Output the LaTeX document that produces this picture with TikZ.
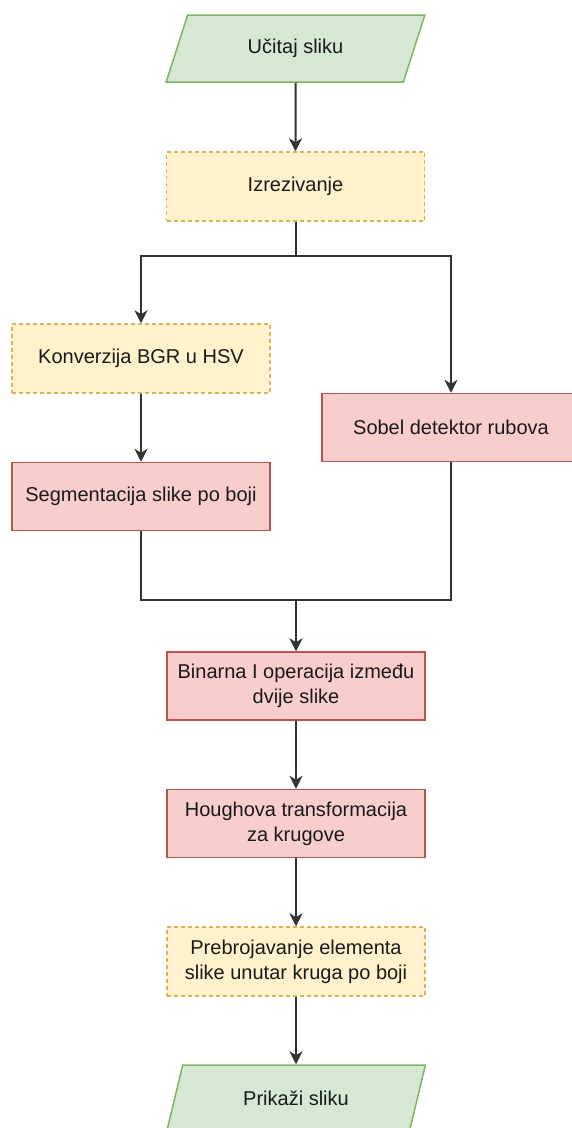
\documentclass[tikz,border=0pt]{standalone}
\usepackage{fontspec}
\setmainfont{Liberation Sans}
\usetikzlibrary{arrows.meta}
\usetikzlibrary{shapes.geometric}
\definecolor{iofill}{HTML}{D5E8D4}
\definecolor{ioline}{HTML}{82B366}
\definecolor{prepfill}{HTML}{FFF2CC}
\definecolor{prepline}{HTML}{D6B656}
\definecolor{procfill}{HTML}{F8CECC}
\definecolor{procline}{HTML}{B85450}
\definecolor{wire}{HTML}{333333}
\definecolor{txt}{HTML}{1A1A1A}

\begin{document}
\begin{tikzpicture}[x=1pt,y=-1pt,
  every node/.style={align=center, text=txt, inner sep=0pt, font=\fontsize{20}{25}\selectfont},
  io/.style={trapezium, trapezium left angle=63, trapezium right angle=117, trapezium stretches=true,
    draw=ioline, fill=iofill, line width=1.5pt, minimum width=259pt, minimum height=67pt},
  prep/.style={rectangle, draw=prepline, fill=prepfill, line width=1.5pt, dash pattern=on 4pt off 3pt,
    minimum width=258pt, minimum height=69pt},
  proc/.style={rectangle, draw=procline, fill=procfill, line width=1.5pt,
    minimum width=258pt, minimum height=68pt},
  flow/.style={draw=wire, line width=2pt, -{Stealth[length=13pt, width=13pt, inset=4pt]}},
  wireline/.style={draw=wire, line width=2pt}]
\useasboundingbox (0,0) rectangle (572,1128);

\node[io] (ucitaj) at (295.5,48.5) {Učitaj sliku};
\node[prep] (izrez) at (295.5,186.5) {Izrezivanje};
\node[prep] (hsv) at (141,358.5) {Konverzija BGR u HSV};
\node[proc] (segm) at (141,496.5) {Segmentacija slike po boji};
\node[proc] (sobel) at (451,427.5) {Sobel detektor rubova};
\node[proc] (binarna) at (296,686) {Binarna I operacija između\\dvije slike};
\node[proc] (hough) at (296,823.5) {Houghova transformacija\\za krugove};
\node[prep] (prebroj) at (296,961.5) {Prebrojavanje elementa\\slike unutar kruga po boji};
\node[io] (prikazi) at (296,1098.5) {Prikaži sliku};

\coordinate (grana) at (295.5,256);
\coordinate (spoj) at (296,600);

\draw[flow] (ucitaj) -- (izrez);
\draw[wireline] (izrez) -- (grana);
\draw[flow] (grana) -| (hsv);
\draw[flow] (grana) -| (sobel);
\draw[flow] (hsv) -- (segm);
\draw[wireline] (segm) |- (spoj);
\draw[wireline] (sobel) |- (spoj);
\draw[flow] (spoj) -- (binarna);
\draw[flow] (binarna) -- (hough);
\draw[flow] (hough) -- (prebroj);
\draw[flow] (prebroj) -- (prikazi);
\end{tikzpicture}
\end{document}
